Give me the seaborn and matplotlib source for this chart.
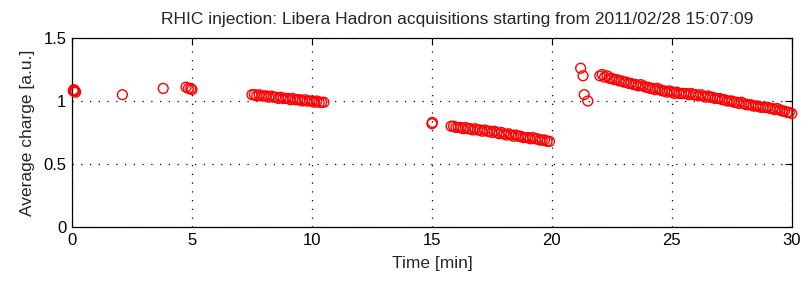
import numpy as np
import pandas as pd
import matplotlib
matplotlib.use("Agg")
import matplotlib.pyplot as plt
import seaborn as sns

# ==========================================
# DATA
# ==========================================

t_sparse = [0.05, 0.08, 0.12, 0.15, 2.1, 3.8, 4.75, 4.85, 4.95, 5.0,
            15.0, 15.02, 21.2, 21.3, 21.35, 21.5]
q_sparse = [1.08, 1.09, 1.08, 1.07, 1.05, 1.10, 1.11, 1.10, 1.10, 1.09,
            0.82, 0.83, 1.26, 1.20, 1.05, 1.00]

t_seg1 = [7.5, 7.6, 7.7, 7.8, 7.9, 8.0, 8.1, 8.2, 8.3, 8.4, 8.5, 8.6, 8.7,
          8.8, 8.9, 9.0, 9.1, 9.2, 9.3, 9.4, 9.5, 9.6, 9.7, 9.8, 9.9, 10.0,
          10.1, 10.2, 10.3, 10.4, 10.5]
q_seg1 = [1.05, 1.05, 1.04, 1.05, 1.04, 1.04, 1.04, 1.03, 1.04, 1.03, 1.03,
          1.02, 1.03, 1.02, 1.02, 1.02, 1.01, 1.02, 1.01, 1.01, 1.01, 1.00,
          1.01, 1.00, 1.00, 1.00, 0.99, 1.00, 0.99, 0.99, 0.99]

t_seg2 = [15.8, 15.9, 16.0, 16.1, 16.2, 16.3, 16.4, 16.5, 16.6, 16.7, 16.8,
          16.9, 17.0, 17.1, 17.2, 17.3, 17.4, 17.5, 17.6, 17.7, 17.8, 17.9,
          18.0, 18.1, 18.2, 18.3, 18.4, 18.5, 18.6, 18.7, 18.8, 18.9, 19.0,
          19.1, 19.2, 19.3, 19.4, 19.5, 19.6, 19.7, 19.8, 19.9]
q_seg2 = [0.80, 0.80, 0.79, 0.79, 0.79, 0.78, 0.79, 0.78, 0.78, 0.77, 0.78,
          0.77, 0.77, 0.76, 0.77, 0.76, 0.76, 0.75, 0.76, 0.75, 0.74, 0.75,
          0.74, 0.73, 0.74, 0.73, 0.72, 0.73, 0.72, 0.72, 0.71, 0.71, 0.71,
          0.70, 0.71, 0.70, 0.70, 0.69, 0.69, 0.69, 0.68, 0.68]

t_seg3 = [22.0, 22.1, 22.2, 22.3, 22.4, 22.5, 22.6, 22.7, 22.8, 22.9,
          23.0, 23.1, 23.2, 23.3, 23.4, 23.5, 23.6, 23.7, 23.8, 23.9,
          24.0, 24.1, 24.2, 24.3, 24.4, 24.5, 24.6, 24.7, 24.8, 24.9,
          25.0, 25.1, 25.2, 25.3, 25.4, 25.5, 25.6, 25.7, 25.8, 25.9,
          26.0, 26.1, 26.2, 26.3, 26.4, 26.5, 26.6, 26.7, 26.8, 26.9,
          27.0, 27.1, 27.2, 27.3, 27.4, 27.5, 27.6, 27.7, 27.8, 27.9,
          28.0, 28.1, 28.2, 28.3, 28.4, 28.5, 28.6, 28.7, 28.8, 28.9,
          29.0, 29.1, 29.2, 29.3, 29.4, 29.5, 29.6, 29.7, 29.8, 29.9, 30.0]
q_seg3 = [1.20, 1.21, 1.19, 1.20, 1.18, 1.18, 1.17, 1.17, 1.16, 1.16,
          1.15, 1.15, 1.14, 1.14, 1.13, 1.13, 1.12, 1.13, 1.12, 1.11,
          1.11, 1.10, 1.10, 1.09, 1.10, 1.09, 1.08, 1.08, 1.07, 1.08,
          1.07, 1.06, 1.07, 1.06, 1.06, 1.06, 1.06, 1.05, 1.06, 1.05,
          1.05, 1.04, 1.05, 1.04, 1.03, 1.04, 1.03, 1.03, 1.02, 1.02,
          1.02, 1.01, 1.01, 1.00, 1.00, 1.00, 0.99, 0.99, 0.98, 0.99,
          0.98, 0.97, 0.97, 0.97, 0.96, 0.96, 0.96, 0.95, 0.95, 0.95,
          0.95, 0.94, 0.94, 0.93, 0.94, 0.93, 0.92, 0.92, 0.91, 0.91, 0.90]

x_ticks = [0, 5, 10, 15, 20, 25, 30]
y_ticks = [0, 0.5, 1, 1.5]
y_tick_labels = ["0", "0.5", "1", "1.5"]

df = pd.DataFrame({
    "time": t_sparse + t_seg1 + t_seg2 + t_seg3,
    "charge": q_sparse + q_seg1 + q_seg2 + q_seg3,
})

# ==========================================
# PLOT
# ==========================================

sns.set_style("white")
plt.rcParams["font.family"] = ["Liberation Sans", "DejaVu Sans"]

fig = plt.figure(figsize=(8.03, 2.85), dpi=100)
ax = fig.add_axes([0.0897, 0.2035, 0.8963, 0.6632])

sns.scatterplot(
    data=df, x="time", y="charge", ax=ax,
    marker="o", s=50, facecolors="none", edgecolors="red", linewidths=1.0,
    zorder=3, clip_on=False,
)

ax.set_xlim(0, 30)
ax.set_ylim(0, 1.5)
ax.set_xticks(x_ticks)
ax.set_yticks(y_ticks)
ax.set_yticklabels(y_tick_labels)

ax.grid(True, color="black", linestyle=(0, (1, 6)), linewidth=0.9)
ax.tick_params(direction="in", length=5, width=0.8, top=True, right=True,
               labelsize=12, colors="black", pad=4)
for s in ax.spines.values():
    s.set_visible(True)
    s.set_color("black")
    s.set_linewidth(0.9)

ax.set_xlabel("Time [min]", fontsize=12.5, labelpad=6)
ax.set_ylabel("Average charge [a.u.]", fontsize=12.5, labelpad=6)
ax.set_title("RHIC injection: Libera Hadron acquisitions starting from 2011/02/28 15:07:09",
             fontsize=12.5, pad=10, x=0.535)

fig.savefig("out.png", dpi=100)
